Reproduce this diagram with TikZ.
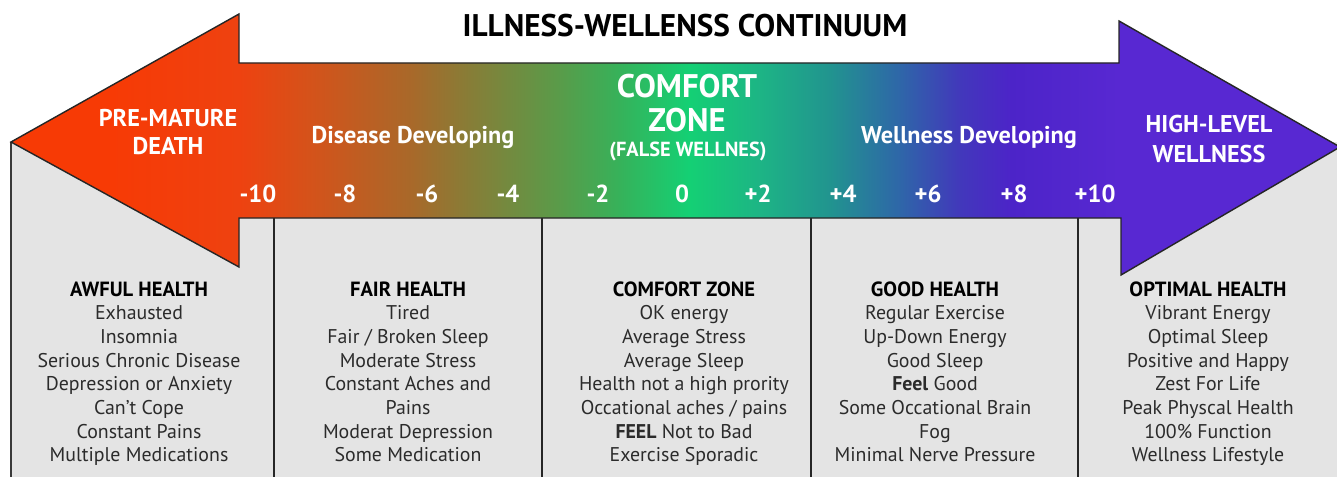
\documentclass[tikz,border=0pt]{standalone}
\usepackage{fontspec}
\setmainfont{PT Sans}
\usepackage{xcolor}
\definecolor{contRouge}{HTML}{F73A05}
\definecolor{contRougeOrange}{HTML}{EE4210}
\definecolor{contOrange}{HTML}{D5521A}
\definecolor{contBrun}{HTML}{A8692A}
\definecolor{contOlive}{HTML}{8C7A35}
\definecolor{contVertOlive}{HTML}{589C4A}
\definecolor{contVertMoyen}{HTML}{36B25A}
\definecolor{contVert}{HTML}{14D074}
\definecolor{contVertBleu}{HTML}{1DB485}
\definecolor{contSarcelle}{HTML}{21948F}
\definecolor{contBleu}{HTML}{2E67A8}
\definecolor{contIndigo}{HTML}{4238BB}
\definecolor{contViolet}{HTML}{4C24C8}
\definecolor{contVioletClair}{HTML}{5828D2}
\definecolor{panneauGris}{HTML}{E4E4E4}
\definecolor{bordGris}{HTML}{3A3A3A}
\definecolor{texteGris}{HTML}{2B2B2B}
\usepackage{tikz}
\usetikzlibrary{positioning}
%% Degrade de la fleche : la boite de la fleche couvre 25bp..75bp.
\pgfdeclarehorizontalshading{continuum}{100bp}{
  color(0bp)=(contRouge); color(28.7bp)=(contRouge);
  color(33.6bp)=(contRougeOrange); color(36.2bp)=(contOrange);
  color(40.1bp)=(contBrun); color(41.9bp)=(contOlive);
  color(45.7bp)=(contVertOlive); color(47.9bp)=(contVertMoyen);
  color(50.5bp)=(contVert); color(53.2bp)=(contVertBleu);
  color(55.8bp)=(contSarcelle); color(58.4bp)=(contBleu);
  color(60.7bp)=(contIndigo); color(62.6bp)=(contViolet);
  color(66.7bp)=(contVioletClair); color(100bp)=(contVioletClair)}
\tikzset{
  %% ── Fleche ───────────────────────────────────────────────────────────
  flecheContinuum/.style = {shading=continuum, draw=black!85,
                            line width=0.8pt, line join=miter},
  filet/.style           = {draw=black!85, line width=0.8pt},
  %%
  %% ── Texte ────────────────────────────────────────────────────────────
  titreBande/.style      = {font=\fontsize{17.8}{20}\selectfont\bfseries,
                            text=black, anchor=base, inner sep=0pt},
  etiquetteFleche/.style = {font=\fontsize{13.8}{16}\selectfont\bfseries,
                            text=white, anchor=base, inner sep=0pt},
  graduation/.style      = {font=\fontsize{14}{16}\selectfont\bfseries,
                            text=white, anchor=base, inner sep=0pt},
  titreColonne/.style    = {font=\fontsize{11.7}{13}\selectfont\bfseries,
                            text=black, anchor=base, inner sep=0pt},
  ligneColonne/.style    = {font=\fontsize{11.3}{13}\selectfont,
                            text=texteGris, anchor=base, inner sep=0pt},
}

\begin{document}
\begin{tikzpicture}[x=0.2mm, y=-0.2mm]

\useasboundingbox (0,0) rectangle (1337,477);

%% Le panneau gris sous la fleche, avec son bord gauche.
\fill[panneauGris] (11,142) rectangle (1337,477);
\draw[bordGris, line width=1.4pt] (11,142) -- (11,477);

%% Les separateurs de colonnes.
\foreach \x in {274, 542, 811, 1078}
  \draw[filet] (\x,218) -- (\x,477);

%% La double fleche.
\draw[flecheContinuum] (11,142) -- (239,14) -- (239,63) -- (1119,63)
  -- (1119,21) -- (1340,147) -- (1121,275) -- (1121,218) -- (239,218)
  -- (239,267) -- cycle;

%% Titre.
\node[titreBande] (titre) at (685,37) {ILLNESS-WELLENSS CONTINUUM};

%% Les intitules dans la fleche.
\node[etiquetteFleche] (mort1) at (168,126) {PRE-MATURE};
\node[etiquetteFleche] (mort2) at (168,154) {DEATH};
\node[etiquetteFleche] (maladie) at (413,143) {Disease Developing};
\node[etiquetteFleche, font=\fontsize{18.6}{20}\selectfont\bfseries]
     (confort1) at (687,98) {COMFORT};
\node[etiquetteFleche, font=\fontsize{18.6}{20}\selectfont\bfseries]
     (confort2) at (687,132) {ZONE};
\node[etiquetteFleche, font=\fontsize{11.6}{13}\selectfont\bfseries]
     (confort3) at (688,156) {(FALSE WELLNES)};
\node[etiquetteFleche] (bienetre) at (969,143) {Wellness Developing};
\node[etiquetteFleche] (haut1) at (1209,133) {HIGH-LEVEL};
\node[etiquetteFleche] (haut2) at (1209,162) {WELLNESS};

%% L'echelle de -10 a +10.
\foreach \x/\v [count=\k] in {258/-10, 345/-8, 427/-6, 508/-4, 598/-2,
                              682/0, 758/+2, 843/+4, 928/+6, 1014/+8, 1095/+10}
  \node[graduation] (grad-\k) at (\x,202) {\v};

%% Les cinq colonnes : un titre, puis sept lignes.
\foreach \x/\col/\titre/\lignes in {
    139/awful/{AWFUL HEALTH}/{Exhausted, Insomnia, Serious Chronic Disease,
      Depression or Anxiety, Can't Cope, Constant Pains, Multiple Medications},
    408/fair/{FAIR HEALTH}/{Tired, Fair / Broken Sleep, Moderate Stress,
      Constant Aches and, Pains, Moderat Depression, Some Medication},
    684/confort/{COMFORT ZONE}/{OK energy, Average Stress, Average Sleep,
      Health not a high prority, Occational aches / pains,
      \textbf{FEEL} Not to Bad, Exercise Sporadic},
    935/good/{GOOD HEALTH}/{Regular Exercise, Up-Down Energy, Good Sleep,
      \textbf{Feel} Good, Some Occational Brain, Fog, Minimal Nerve Pressure},
    1208/optimal/{OPTIMAL HEALTH}/{Vibrant Energy, Optimal Sleep,
      Positive and Happy, Zest For Life, Peak Physcal Health, 100\% Function,
      Wellness Lifestyle}} {
  \node[titreColonne] (\col-0) at (\x,296) {\titre};
  \foreach \ligne [count=\k] in \lignes
    \node[ligneColonne] (\col-\k) at (\x,{296+23.7*\k}) {\ligne};
}

\end{tikzpicture}
\end{document}
